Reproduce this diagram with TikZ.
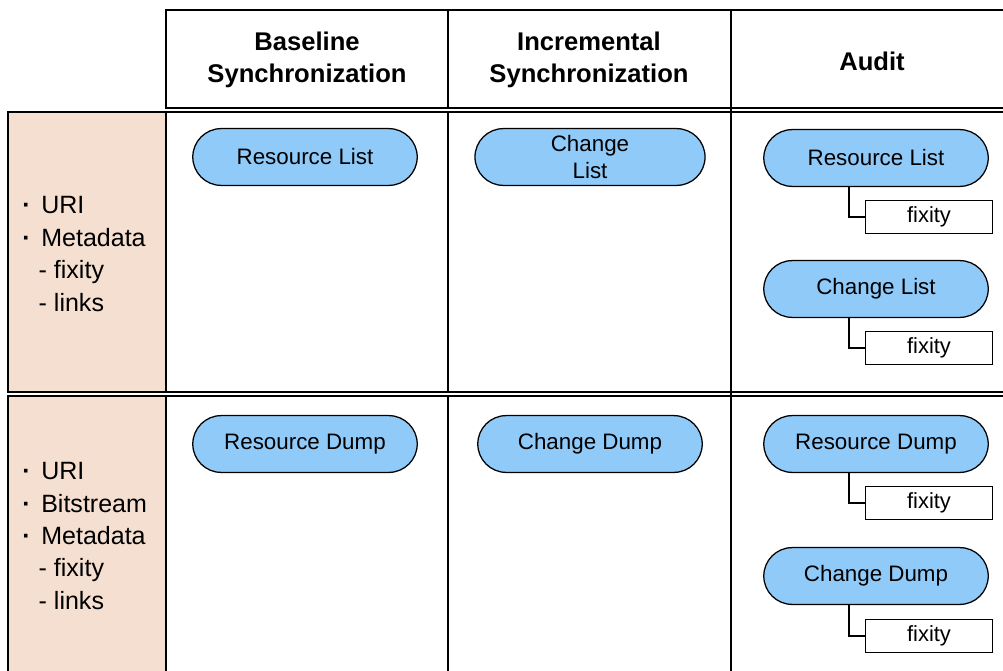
\documentclass[tikz,border=0pt]{standalone}
\usepackage{fontspec}
\setmainfont{Liberation Sans}
\usetikzlibrary{calc,positioning,shapes.misc}
\definecolor{peach}{RGB}{245,223,208}
\definecolor{lblue}{RGB}{144,202,249}
\newcommand{\itm}{\makebox[4.75mm][l]{\textbf{·}}}
\newcommand{\subitm}{\hspace*{4.1mm}- }

\begin{document}
\begin{tikzpicture}[x=0.025cm,y=-0.025cm,
    doc/.style={rounded rectangle, draw, line width=0.9pt, fill=lblue, minimum width=5.75cm, minimum height=1.42cm, inner sep=2pt, align=center, font=\fontsize{15.9}{18.5}\selectfont},
    fix/.style={rectangle, draw, line width=0.9pt, minimum width=3.17cm, minimum height=0.84cm, font=\fontsize{15.6}{18}\selectfont},
    head/.style={align=center, font=\bfseries\fontsize{18.2}{22.8}\selectfont},
    items/.style={align=left, anchor=west, inner sep=0pt, font=\fontsize{17.8}{23.1}\selectfont},
    grid/.style={line width=1.1pt}]
  \useasboundingbox (0,0) rectangle (1003,670);
  % header row
  \draw[grid] (1010,10) -- (166,10) -- (166,108) -- (1010,108);
  \draw[grid] (448,10) -- (448,108) (731,10) -- (731,108);
  \node[head] (hbase) at (307,60) {Baseline\\Synchronization};
  \node[head] (hinc) at (589,60) {Incremental\\Synchronization};
  \node[head] (haudit) at (872,61) {Audit};
  % body rows
  \draw[grid, fill=peach] (8,112) rectangle (166,392);
  \draw[grid, fill=peach] (8,396) rectangle (166,690);
  \draw[grid] (166,112) -- (1010,112) (166,392) -- (1010,392);
  \draw[grid] (166,396) -- (1010,396);
  \draw[grid] (448,112) -- (448,392) (448,396) -- (448,690);
  \draw[line width=2pt] (731,108) -- (731,690);
  % left column
  \node[items] (meta1) at (22,254) {\itm URI\\\itm Metadata\\\subitm fixity\\\subitm links};
  \node[items] (meta2) at (22,536) {\itm URI\\\itm Bitstream\\\itm Metadata\\\subitm fixity\\\subitm links};
  % first row
  \node[doc] (rl) at (305,157) {Resource List};
  \node[doc, inner sep=0pt] (cl) at (590,157) {Change\\List};
  \node[doc] (arl) at (876,158) {Resource List};
  \node[fix] (fx1) at (929,217) {fixity};
  \node[doc] (acl) at (876,289) {Change List};
  \node[fix] (fx2) at (929,348) {fixity};
  % second row
  \node[doc] (rd) at (305,444) {Resource Dump};
  \node[doc] (cd) at (590,444) {Change Dump};
  \node[doc] (ard) at (876,444) {Resource Dump};
  \node[fix] (fx3) at (929,503) {fixity};
  \node[doc] (acd) at (876,576) {Change Dump};
  \node[fix] (fx4) at (929,636) {fixity};
  % fixity links
  \draw[line width=0.9pt] ($(arl.south -| fx1.west)+(-16,0)$) |- (fx1.west);
  \draw[line width=0.9pt] ($(acl.south -| fx2.west)+(-16,0)$) |- (fx2.west);
  \draw[line width=0.9pt] ($(ard.south -| fx3.west)+(-16,0)$) |- (fx3.west);
  \draw[line width=0.9pt] ($(acd.south -| fx4.west)+(-16,0)$) |- (fx4.west);
\end{tikzpicture}
\end{document}
